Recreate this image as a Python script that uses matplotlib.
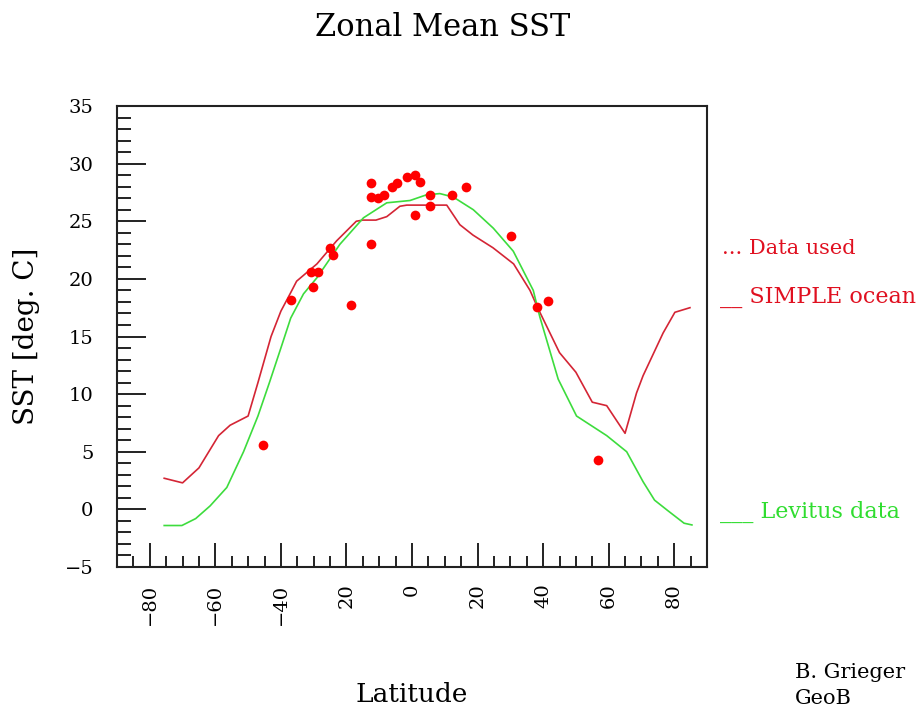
import numpy as np
import matplotlib.pyplot as plt
from matplotlib.ticker import MultipleLocator

# SIMPLE ocean model zonal mean (red line)
model_lat = [-75.6, -70.0, -65.0, -59.0, -55.5, -50.0, -47.0, -43.0, -40.0, -37.2, -35.2,
             -29.0, -23.0, -17.0, -15.0, -11.0, -7.7, -3.7, -1.6, 4.5, 10.6, 14.6,
             18.6, 24.7, 31.0, 36.0, 38.5, 45.0, 50.0, 55.0, 59.4, 65.0, 68.5, 70.5,
             76.6, 80.2, 84.8]
model_sst = [2.7, 2.3, 3.6, 6.4, 7.3, 8.1, 11.0, 15.0, 17.2, 18.7, 19.8,
             21.3, 23.3, 25.0, 25.1, 25.1, 25.4, 26.3, 26.4, 26.4, 26.4, 24.7,
             23.8, 22.7, 21.3, 19.0, 17.4, 13.6, 11.9, 9.3, 9.0, 6.6, 10.1, 11.6,
             15.3, 17.1, 17.5]

# Levitus climatology (green line)
lev_lat = [-75.6, -70.2, -66.0, -61.6, -56.5, -51.4, -47.0, -43.5, -40.0, -37.0, -33.1,
           -29.0, -22.0, -14.8, -7.7, -0.6, 4.5, 8.5, 12.6, 18.7, 24.8, 30.9,
           37.0, 39.0, 44.6, 50.2, 59.4, 65.5, 70.5, 74.0, 78.0, 83.0, 85.4]
lev_sst = [-1.4, -1.4, -0.8, 0.3, 1.9, 5.0, 8.1, 11.0, 14.0, 16.6, 18.7,
           20.1, 23.0, 25.3, 26.6, 26.8, 27.3, 27.4, 27.1, 26.0, 24.4, 22.4,
           19.0, 16.7, 11.3, 8.1, 6.4, 5.0, 2.4, 0.8, -0.1, -1.2, -1.35]

# data points used (red dots)
obs_lat = [-45.4, -36.9, -30.8, -28.7, -30.2, -25.0, -24.1, -18.6, -12.5, -12.5,
           -12.5, -10.4, -8.5, -6.1, -4.6, -1.5, 0.9, 2.4, 0.9, 5.5, 5.5, 12.2,
           16.5, 30.2, 38.1, 41.5, 56.7]
obs_sst = [5.6, 18.2, 20.6, 20.6, 19.3, 22.7, 22.1, 17.7, 28.3, 27.1,
           23.0, 27.0, 27.3, 28.0, 28.3, 28.8, 29.0, 28.4, 25.5, 27.3, 26.3, 27.3,
           28.0, 23.7, 17.6, 18.1, 4.3]

xticks = [-80, -60, -40, -20, 0, 20, 40, 60, 80]
xticklabels = ['\u221280', '\u221260', '\u221240', '20', '0', '20', '40', '60', '80']
yticks = [-5, 0, 5, 10, 15, 20, 25, 30, 35]
yticklabels = ['\u22125', '0', '5', '10', '15', '20', '25', '30', '35']

W, H = 921, 711
plt.rcParams['font.family'] = 'DejaVu Serif'
fig = plt.figure(figsize=(W / 100, H / 100), dpi=100)
ax = fig.add_axes([117 / W, 1 - 567 / H, 590 / W, 461 / H])

ax.plot(model_lat, model_sst, color='#d42535', lw=1.2)
ax.plot(lev_lat, lev_sst, color='#3ddc3d', lw=1.2)
ax.plot(obs_lat, obs_sst, 'o', color='#ff0000', ms=7, mec='none')

ax.set_xlim(-90, 90)
ax.set_ylim(-5, 35)
ax.set_xticks(xticks)
ax.set_xticklabels(xticklabels, rotation=90, fontsize=14)
ax.xaxis.set_minor_locator(MultipleLocator(5))
ax.set_yticks(yticks)
ax.set_yticklabels(yticklabels, fontsize=14)
ax.yaxis.set_minor_locator(MultipleLocator(1))

ax.tick_params(which='both', direction='in', top=False, right=False, width=1.4, color='#222222')
ax.tick_params(axis='x', which='major', length=17, pad=12)
ax.tick_params(axis='x', which='minor', length=8)
ax.tick_params(axis='y', which='major', length=21, pad=17)
ax.tick_params(axis='y', which='minor', length=10)
for s in ax.spines.values():
    s.set_linewidth(1.5)
    s.set_color('#222222')

fig.text(443 / W, 1 - 27 / H, 'Zonal Mean SST', ha='center', va='center', fontsize=22)
fig.text(412 / W, 1 - 695 / H, 'Latitude', ha='center', va='center', fontsize=19)
fig.text(26 / W, 1 - 336 / H, 'SST [deg. C]', ha='center', va='center', rotation=90, fontsize=20)

fig.text(722 / W, 1 - 249 / H, '... Data used', ha='left', va='center', fontsize=15, color='#e01020')
fig.text(720 / W, 1 - 297 / H, '__ SIMPLE ocean', ha='left', va='center', fontsize=16, color='#e01020')
fig.text(720 / W, 1 - 512 / H, '___ Levitus data', ha='left', va='center', fontsize=16, color='#30dd30')

fig.text(795 / W, 1 - 672 / H, 'B. Grieger', ha='left', va='center', fontsize=15)
fig.text(795 / W, 1 - 699 / H, 'GeoB', ha='left', va='center', fontsize=15)

fig.savefig('out.png', dpi=100, facecolor='white')
